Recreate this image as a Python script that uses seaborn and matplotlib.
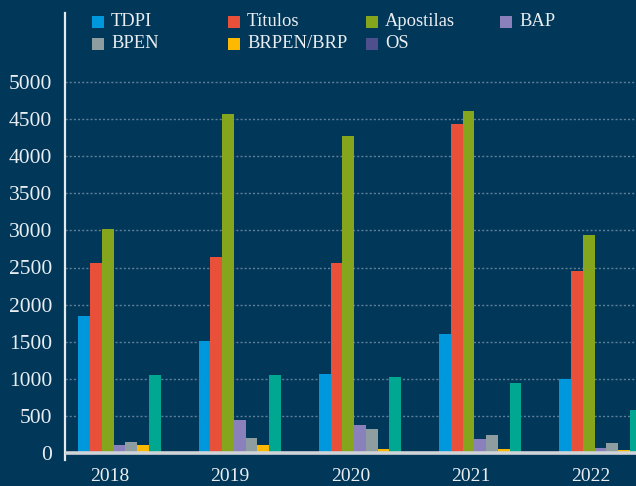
import matplotlib
matplotlib.use("Agg")
import matplotlib.pyplot as plt
from matplotlib.patches import Rectangle
import seaborn as sns
import numpy as np

# ---- data ----
years = [2018, 2019, 2020, 2021, 2022]
tdpi = [1840, 1510, 1060, 1610, 1000]
titulos = [2560, 2640, 2560, 4440, 2450]
apostilas = [3020, 4570, 4270, 4610, 2940]
bap = [110, 440, 380, 190, 65]
bpen = [150, 200, 330, 240, 130]
brpen_brp = [110, 110, 60, 60, 35]
outros = [1050, 1050, 1020, 940, 580]
os_vals = [0, 0, 0, 0, 0]

series_names = ["TDPI", "Títulos", "Apostilas", "BAP", "BPEN", "BRPEN/BRP", "Outros", "OS"]
series_vals = [tdpi, titulos, apostilas, bap, bpen, brpen_brp, outros, os_vals]
colors = ["#0098dc", "#e8503a", "#84a51c", "#8a80bb", "#8e9ea0", "#fdb900", "#00a891", "#4e4f8c"]
legend_names = ["TDPI", "Títulos", "Apostilas", "BAP", "BPEN", "BRPEN/BRP", "OS"]
legend_colors = ["#0098dc", "#e8503a", "#84a51c", "#8a80bb", "#8e9ea0", "#fdb900", "#4e4f8c"]
yticks = list(range(0, 5001, 500))

# ---- style ----
BG = "#013759"
TXT = "#e9eef2"
sns.set_style("dark")
plt.rcParams["font.family"] = ["Liberation Serif", "DejaVu Serif"]

W, H = 636, 486
fig = plt.figure(figsize=(W / 100, H / 100), dpi=100)
fig.patch.set_facecolor(BG)

px_per_year = 120.25
x0_px = 110.0
left_px = 64.5
zero_px = 453.0
px_per_val = 0.0742
bottom_px = 460.0
top_px = 13.0

ax = fig.add_axes([left_px / W, (H - bottom_px) / H, (W - left_px) / W, (bottom_px - top_px) / H])
ax.set_facecolor(BG)

bw = 0.0975
start_off = -0.262
for i, (name, vals, c) in enumerate(zip(series_names, series_vals, colors)):
    pos = [y + start_off + bw * (i + 0.5) for y in years]
    sns.barplot(x=pos, y=vals, native_scale=True, width=bw, color=c,
                saturation=1, errorbar=None, ax=ax, zorder=3, linewidth=0)

xmin = years[0] - (x0_px - left_px) / px_per_year
xmax = years[0] + (W - x0_px) / px_per_year
ax.set_xlim(xmin, xmax)
ax.set_ylim(-(bottom_px - zero_px) / px_per_val, (zero_px - top_px) / px_per_val)

ax.set_yticks(yticks)
ax.set_yticklabels([str(v) for v in yticks])
ax.set_xticks(years)
ax.set_xticklabels([str(y) for y in years])
ax.set_xlabel("")
ax.set_ylabel("")

ax.grid(False)
for v in yticks[1:]:
    ax.axhline(v, color="#5f7f98", lw=1, ls=(0, (1.5, 1.5)), zorder=1)
ax.axhline(0, color="#cfd4d8", lw=2.6, zorder=4)

ax.tick_params(axis="y", length=0, pad=9, labelsize=15.5, labelcolor=TXT)
ax.tick_params(axis="x", length=0, pad=6, labelsize=14, labelcolor=TXT)
for s in ["top", "right", "bottom"]:
    ax.spines[s].set_visible(False)
ax.spines["left"].set_color("#e4e9ed")
ax.spines["left"].set_linewidth(1.6)

# ---- legend (manual, 4 columns x 2 rows) ----
col_x = [92, 228, 366, 500]
row_y = [22, 44]
for k, (name, c) in enumerate(zip(legend_names, legend_colors)):
    r, cidx = divmod(k, 4)
    x = col_x[cidx]
    y = row_y[r]
    fig.patches.append(Rectangle((x / W, (H - y - 6) / H), 12 / W, 12 / H,
                                 transform=fig.transFigure, facecolor=c,
                                 edgecolor="none", zorder=5))
    fig.text((x + 19) / W, (H - y) / H, name, color=TXT, fontsize=13.3,
             va="center", ha="left")

fig.savefig("out.png", dpi=100, facecolor=BG)
